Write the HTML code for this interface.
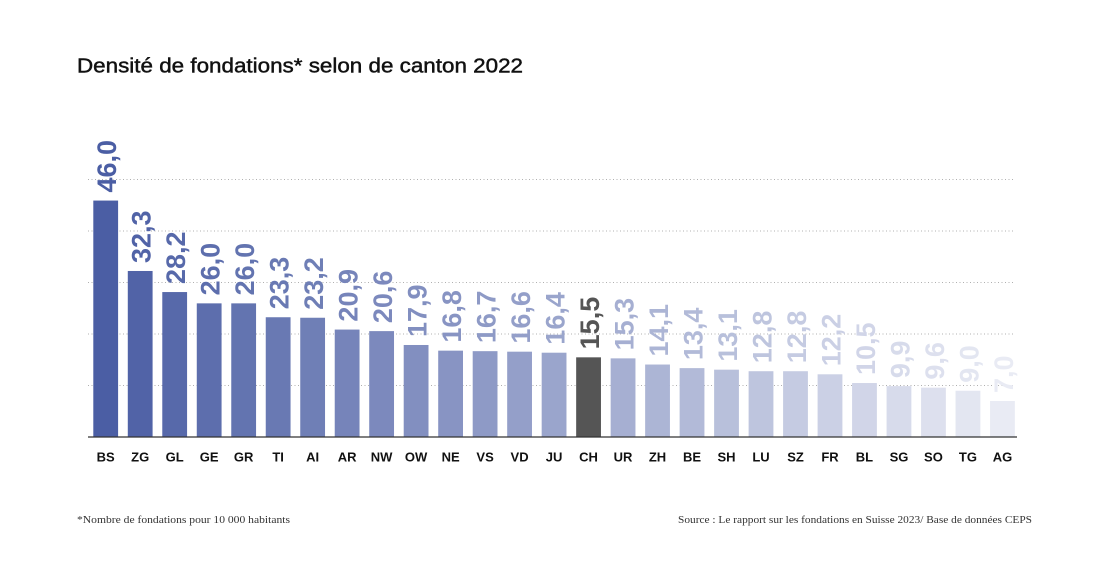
<!DOCTYPE html>
<html>
<head>
<meta charset="utf-8">
<style>
  html,body{margin:0;padding:0;background:#fff;}
  svg{display:block;}
  .v{font-family:"Liberation Sans",sans-serif;font-weight:bold;font-size:27px;}
  .x{font-family:"Liberation Sans",sans-serif;font-weight:bold;font-size:13px;fill:#111;text-anchor:middle;}
  .f{font-family:"Liberation Serif",serif;font-size:11px;fill:#333;}
</style>
</head>
<body>
<svg width="1119" height="582" viewBox="0 0 1119 582" xmlns="http://www.w3.org/2000/svg">
  <rect width="1119" height="582" fill="#fff"/>
  <text x="77" y="72.3" font-family="Liberation Sans, sans-serif" font-size="20" fill="#111" textLength="446" lengthAdjust="spacingAndGlyphs" stroke="#111" stroke-width="0.45">Densité de fondations* selon de canton 2022</text>

  <g stroke="#b0b0b0" stroke-width="1" stroke-dasharray="1 2.5">
    <line x1="88" y1="179.5" x2="1015" y2="179.5"/>
    <line x1="88" y1="231" x2="1015" y2="231"/>
    <line x1="88" y1="282.5" x2="1015" y2="282.5"/>
    <line x1="88" y1="334" x2="1015" y2="334"/>
    <line x1="88" y1="385.5" x2="1015" y2="385.5"/>
  </g>

  <g>
    <rect x="93.3" y="200.56" width="24.8" height="236.44" fill="#4b5ea4"/>
    <rect x="127.79" y="270.98" width="24.8" height="166.02" fill="#5163a7"/>
    <rect x="162.28" y="292.05" width="24.8" height="144.95" fill="#5769aa"/>
    <rect x="196.77" y="303.36" width="24.8" height="133.64" fill="#5d6ead"/>
    <rect x="231.26" y="303.36" width="24.8" height="133.64" fill="#6374b0"/>
    <rect x="265.75" y="317.24" width="24.8" height="119.76" fill="#6979b3"/>
    <rect x="300.24" y="317.75" width="24.8" height="119.25" fill="#6f7fb6"/>
    <rect x="334.73" y="329.57" width="24.8" height="107.43" fill="#7684ba"/>
    <rect x="369.22" y="331.12" width="24.8" height="105.88" fill="#7c89bd"/>
    <rect x="403.71" y="344.99" width="24.8" height="92.01" fill="#828fc0"/>
    <rect x="438.2" y="350.65" width="24.8" height="86.35" fill="#8894c3"/>
    <rect x="472.69" y="351.16" width="24.8" height="85.84" fill="#8e9ac6"/>
    <rect x="507.18" y="351.68" width="24.8" height="85.32" fill="#949fc9"/>
    <rect x="541.67" y="352.7" width="24.8" height="84.3" fill="#9aa5cc"/>
    <rect x="576.16" y="357.33" width="24.8" height="79.67" fill="#555555"/>
    <rect x="610.65" y="358.36" width="24.8" height="78.64" fill="#a6afd2"/>
    <rect x="645.14" y="364.53" width="24.8" height="72.47" fill="#acb5d5"/>
    <rect x="679.63" y="368.12" width="24.8" height="68.88" fill="#b2bad8"/>
    <rect x="714.12" y="369.67" width="24.8" height="67.33" fill="#b8c0db"/>
    <rect x="748.61" y="371.21" width="24.8" height="65.79" fill="#bec5de"/>
    <rect x="783.1" y="371.21" width="24.8" height="65.79" fill="#c5cbe2"/>
    <rect x="817.59" y="374.29" width="24.8" height="62.71" fill="#cbd0e5"/>
    <rect x="852.08" y="383.03" width="24.8" height="53.97" fill="#d1d5e8"/>
    <rect x="886.57" y="386.11" width="24.8" height="50.89" fill="#d7dbeb"/>
    <rect x="921.06" y="387.66" width="24.8" height="49.34" fill="#dde0ee"/>
    <rect x="955.55" y="390.74" width="24.8" height="46.26" fill="#e3e6f1"/>
    <rect x="990.04" y="401.02" width="24.8" height="35.98" fill="#e9ebf4"/>
  </g>

  <line x1="88" y1="437" x2="1017" y2="437" stroke="#333" stroke-width="1.3"/>

  <g class="v">
    <text transform="translate(116.2,192.56) rotate(-90)" fill="#4b5ea4">46,0</text>
    <text transform="translate(150.69,262.98) rotate(-90)" fill="#5163a7">32,3</text>
    <text transform="translate(185.18,284.05) rotate(-90)" fill="#5769aa">28,2</text>
    <text transform="translate(219.67,295.36) rotate(-90)" fill="#5d6ead">26,0</text>
    <text transform="translate(254.16,295.36) rotate(-90)" fill="#6374b0">26,0</text>
    <text transform="translate(288.65,309.24) rotate(-90)" fill="#6979b3">23,3</text>
    <text transform="translate(323.14,309.75) rotate(-90)" fill="#6f7fb6">23,2</text>
    <text transform="translate(357.63,321.57) rotate(-90)" fill="#7684ba">20,9</text>
    <text transform="translate(392.12,323.12) rotate(-90)" fill="#7c89bd">20,6</text>
    <text transform="translate(426.61,336.99) rotate(-90)" fill="#828fc0">17,9</text>
    <text transform="translate(461.1,342.65) rotate(-90)" fill="#8894c3">16,8</text>
    <text transform="translate(495.59,343.16) rotate(-90)" fill="#8e9ac6">16,7</text>
    <text transform="translate(530.08,343.68) rotate(-90)" fill="#949fc9">16,6</text>
    <text transform="translate(564.57,344.7) rotate(-90)" fill="#9aa5cc">16,4</text>
    <text transform="translate(599.06,349.33) rotate(-90)" fill="#555555">15,5</text>
    <text transform="translate(633.55,350.36) rotate(-90)" fill="#a6afd2">15,3</text>
    <text transform="translate(668.04,356.53) rotate(-90)" fill="#acb5d5">14,1</text>
    <text transform="translate(702.53,360.12) rotate(-90)" fill="#b2bad8">13,4</text>
    <text transform="translate(737.02,361.67) rotate(-90)" fill="#b8c0db">13,1</text>
    <text transform="translate(771.51,363.21) rotate(-90)" fill="#bec5de">12,8</text>
    <text transform="translate(806.0,363.21) rotate(-90)" fill="#c5cbe2">12,8</text>
    <text transform="translate(840.49,366.29) rotate(-90)" fill="#cbd0e5">12,2</text>
    <text transform="translate(874.98,375.03) rotate(-90)" fill="#d1d5e8">10,5</text>
    <text transform="translate(909.47,378.11) rotate(-90)" fill="#d7dbeb">9,9</text>
    <text transform="translate(943.96,379.66) rotate(-90)" fill="#dde0ee">9,6</text>
    <text transform="translate(978.45,382.74) rotate(-90)" fill="#e3e6f1">9,0</text>
    <text transform="translate(1012.94,393.02) rotate(-90)" fill="#e9ebf4">7,0</text>
  </g>

  <g class="x">
    <text x="105.7" y="461.5">BS</text>
    <text x="140.19" y="461.5">ZG</text>
    <text x="174.68" y="461.5">GL</text>
    <text x="209.17" y="461.5">GE</text>
    <text x="243.66" y="461.5">GR</text>
    <text x="278.15" y="461.5">TI</text>
    <text x="312.64" y="461.5">AI</text>
    <text x="347.13" y="461.5">AR</text>
    <text x="381.62" y="461.5">NW</text>
    <text x="416.11" y="461.5">OW</text>
    <text x="450.6" y="461.5">NE</text>
    <text x="485.09" y="461.5">VS</text>
    <text x="519.58" y="461.5">VD</text>
    <text x="554.07" y="461.5">JU</text>
    <text x="588.56" y="461.5">CH</text>
    <text x="623.05" y="461.5">UR</text>
    <text x="657.54" y="461.5">ZH</text>
    <text x="692.03" y="461.5">BE</text>
    <text x="726.52" y="461.5">SH</text>
    <text x="761.01" y="461.5">LU</text>
    <text x="795.5" y="461.5">SZ</text>
    <text x="829.99" y="461.5">FR</text>
    <text x="864.48" y="461.5">BL</text>
    <text x="898.97" y="461.5">SG</text>
    <text x="933.46" y="461.5">SO</text>
    <text x="967.95" y="461.5">TG</text>
    <text x="1002.44" y="461.5">AG</text>
  </g>

  <text class="f" x="77" y="523" textLength="213" lengthAdjust="spacingAndGlyphs">*Nombre de fondations pour 10 000 habitants</text>
  <text class="f" x="678" y="523" textLength="354" lengthAdjust="spacingAndGlyphs">Source : Le rapport sur les fondations en Suisse 2023/ Base de données CEPS</text>
</svg>
</body>
</html>
